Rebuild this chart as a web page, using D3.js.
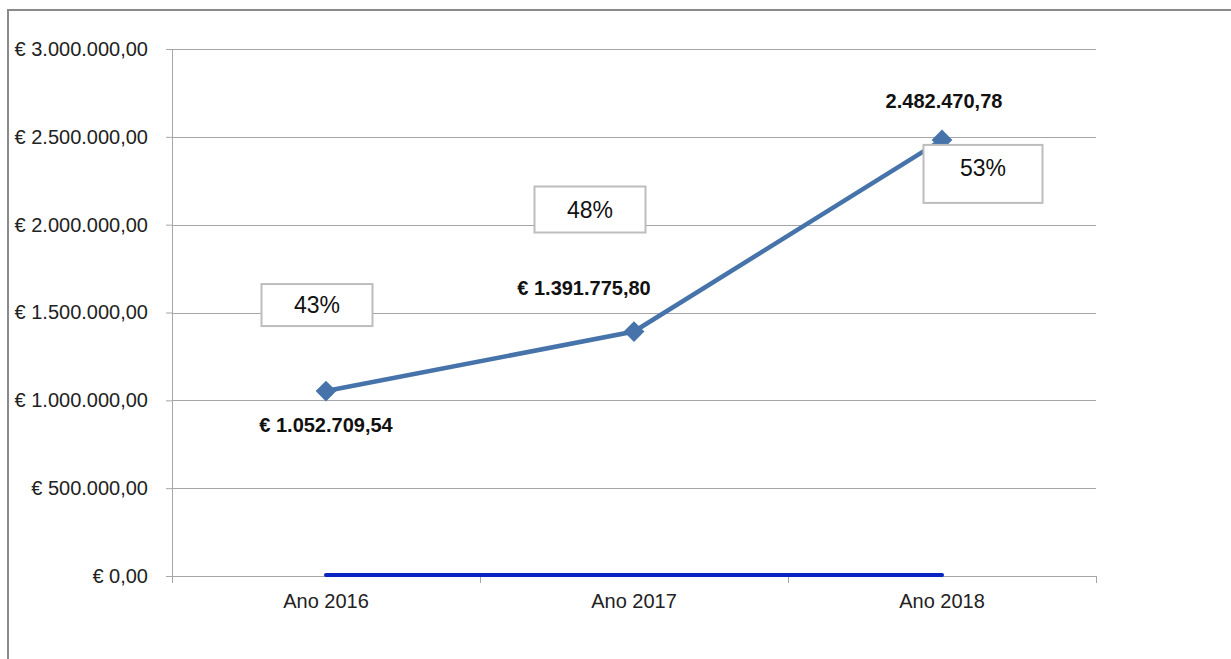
<!DOCTYPE html>
<html>
<head>
<meta charset="utf-8">
<script src="https://cdn.jsdelivr.net/npm/d3@7"></script>
<style>
  body { margin: 0; background: #fff; }
  svg { display: block; font-family: "Liberation Sans", Arial, sans-serif; }
</style>
</head>
<body>
<svg id="viz"></svg>
<script>
// ----------------------- DATA
const categories = ['Ano 2016', 'Ano 2017', 'Ano 2018'];
const valores = [1052709.54, 1391775.80, 2482470.78];
const zeros = [0, 0, 0];
const rotulos = ['€ 1.052.709,54', '€ 1.391.775,80', '2.482.470,78'];
const percentuais = ['43%', '48%', '53%'];
const yTicks = [0, 500000, 1000000, 1500000, 2000000, 2500000, 3000000];

// ----------------------- SETTINGS
const W = 1231, H = 659;
const margin = { top: 49, right: 135, bottom: 83, left: 172 };
const width = W - margin.left - margin.right,
      height = H - margin.top - margin.bottom;

// where the labels / percent boxes sit relative to each point (dx, dy in px)
const labelOffset = [[0, 41], [-50, -37], [2, -32]];
const boxOffset = [[-9, -86], [-44, -122], [41, 34]];
const boxSize = [[111, 42], [111, 46], [119, 58]];

// ----------------------- SCALES
const x = d3.scalePoint().domain(categories).range([0, width]).padding(0.5);
const xBand = d3.scaleBand().domain(categories).range([0, width]);
const y = d3.scaleLinear().domain([0, 3000000]).range([height, 0]);

const fmt = v => '€ ' + d3.format(',.2f')(v).replace(/,/g, '#').replace('.', ',').replace(/#/g, '.');

const svg = d3.select('#viz').attr('width', W).attr('height', H);

// outer frame
svg.append('path')
  .attr('d', `M8,${H} V10 H${W}`)
  .attr('fill', 'none').attr('stroke', '#8a8a8a').attr('stroke-width', 2);

const chart = svg.append('g').attr('transform', `translate(${margin.left},${margin.top})`);

// gridlines
chart.append('g')
  .selectAll('line').data(yTicks.slice(1)).enter().append('line')
  .attr('x1', 0).attr('x2', width)
  .attr('y1', d => Math.round(y(d)) + 0.5).attr('y2', d => Math.round(y(d)) + 0.5)
  .attr('stroke', '#a6a6a6');

// y axis
const yAxis = chart.append('g')
  .call(d3.axisLeft(y).tickValues(yTicks).tickSize(6).tickPadding(18).tickFormat(fmt));
yAxis.select('.domain').attr('stroke', '#a6a6a6');
yAxis.selectAll('.tick line').attr('stroke', '#a6a6a6');
yAxis.selectAll('text').attr('font-size', 20).attr('fill', '#222').attr('font-family', '"Liberation Sans", Arial, sans-serif');

// x axis: ticks at category boundaries
const xg = chart.append('g').attr('transform', `translate(0,${height})`);
xg.append('line').attr('x1', 0).attr('x2', width).attr('y1', 0.5).attr('y2', 0.5).attr('stroke', '#a6a6a6');
xg.selectAll('.bnd').data(categories.map(c => xBand(c)).concat([width])).enter().append('line')
  .attr('x1', d => d + 0.5).attr('x2', d => d + 0.5).attr('y1', 0).attr('y2', 7)
  .attr('stroke', '#a6a6a6');
xg.selectAll('.cat').data(categories).enter().append('text')
  .attr('x', d => x(d)).attr('y', 32)
  .attr('text-anchor', 'middle').attr('font-size', 20).attr('fill', '#222')
  .text(d => d);

// zero series
chart.append('path')
  .datum(zeros)
  .attr('d', d3.line().x((d, i) => x(categories[i])).y(d => y(d) - 1))
  .attr('fill', 'none').attr('stroke', '#0a24c2').attr('stroke-width', 4).attr('stroke-linecap', 'round');

// main series
chart.append('path')
  .datum(valores)
  .attr('d', d3.line().x((d, i) => x(categories[i])).y(d => y(d)))
  .attr('fill', 'none').attr('stroke', '#4673aa').attr('stroke-width', 4.5);

chart.selectAll('.mk').data(valores).enter().append('path')
  .attr('d', d3.symbol().type(d3.symbolSquare).size(215))
  .attr('transform', (d, i) => `translate(${x(categories[i])},${y(d)}) rotate(45)`)
  .attr('fill', '#4673aa');

// data labels
chart.selectAll('.lbl').data(valores).enter().append('text')
  .attr('x', (d, i) => x(categories[i]) + labelOffset[i][0])
  .attr('y', (d, i) => y(d) + labelOffset[i][1])
  .attr('text-anchor', 'middle').attr('font-size', 20).attr('font-weight', 'bold').attr('fill', '#111')
  .text((d, i) => rotulos[i]);

// percent boxes
const boxes = chart.selectAll('.box').data(valores).enter().append('g')
  .attr('transform', (d, i) => `translate(${x(categories[i]) + boxOffset[i][0]},${y(d) + boxOffset[i][1]})`);
boxes.append('rect')
  .attr('x', (d, i) => -boxSize[i][0] / 2).attr('y', (d, i) => -boxSize[i][1] / 2)
  .attr('width', (d, i) => boxSize[i][0]).attr('height', (d, i) => boxSize[i][1])
  .attr('fill', '#fff').attr('stroke', '#bdbdbd').attr('stroke-width', 2);
boxes.append('text')
  .attr('text-anchor', 'middle').attr('dy', '0.35em').attr('y', (d, i) => i === 2 ? -6 : 0)
  .attr('font-size', 23).attr('fill', '#111')
  .text((d, i) => percentuais[i]);
</script>
</body>
</html>
